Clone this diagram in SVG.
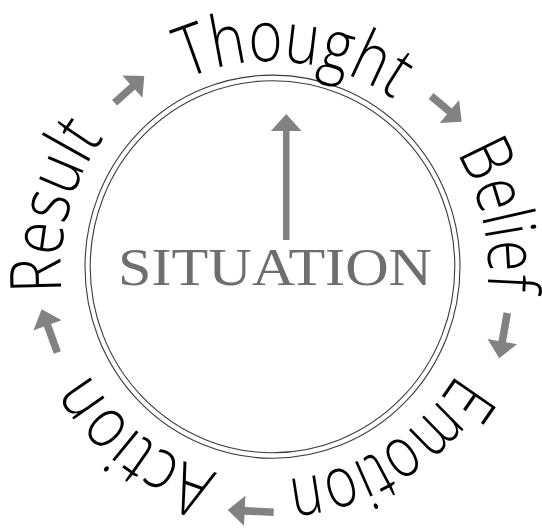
<svg xmlns="http://www.w3.org/2000/svg" xmlns:xlink="http://www.w3.org/1999/xlink" width="542" height="529" viewBox="0 0 542 529">
<style>
.ring{fill:none;stroke:#3a3a3a;stroke-width:1.1}
.word{font-family:"Open Sans","Noto Sans","DejaVu Sans",sans-serif;font-weight:350;font-size:71px;fill:#000}
.arrow{fill:#828282}
.sit{font-family:"Liberation Serif","Times New Roman",serif;font-size:53px;fill:#6e6e6e}
</style>
<defs>
<path id="pThought" d="M252.5,470.5 A205,205 0 1 1 292.5,62.5 A205,205 0 1 1 252.5,470.5"/>
<path id="pBelief" d="M62.8,313.8 A215,215 0 1 1 482.2,219.2 A215,215 0 1 1 62.8,313.8"/>
<path id="pEmotion" d="M160.2,86.7 A212,212 0 1 1 384.8,446.3 A212,212 0 1 1 160.2,86.7"/>
<path id="pAction" d="M402.2,97.5 A213,213 0 1 1 142.8,435.5 A213,213 0 1 1 402.2,97.5"/>
<path id="pResult" d="M476.1,321.8 A211,211 0 1 1 68.9,211.2 A211,211 0 1 1 476.1,321.8"/>
<polygon id="arrS" points="-40,-3.8 -16,-3.8 -16,-15 0,0 -16,15 -16,3.8 -40,3.8"/>
<polygon id="arrL" points="-46,-3.8 -17,-3.8 -17,-15 0,0 -17,15 -17,3.8 -46,3.8"/>
</defs>
<g id="situation">
<ellipse class="ring" cx="272.5" cy="266.7" rx="187.5" ry="191.6"/>
<ellipse class="ring" cx="272.5" cy="266.7" rx="182.3" ry="186"/>
<text class="sit" x="118" y="285" textLength="314" lengthAdjust="spacingAndGlyphs">SITUATION</text>
</g>
<g id="thought"><text class="word"><textPath href="#pThought" xlink:href="#pThought" startOffset="50%" text-anchor="middle" textLength="218" lengthAdjust="spacingAndGlyphs">Thought</textPath></text></g>
<g id="belief"><text class="word"><textPath href="#pBelief" xlink:href="#pBelief" startOffset="50%" text-anchor="middle" textLength="143" lengthAdjust="spacingAndGlyphs">Belief</textPath></text></g>
<g id="emotion"><text class="word"><textPath href="#pEmotion" xlink:href="#pEmotion" startOffset="50%" text-anchor="middle" textLength="207" lengthAdjust="spacingAndGlyphs">Emotion</textPath></text></g>
<g id="action"><text class="word"><textPath href="#pAction" xlink:href="#pAction" startOffset="50%" text-anchor="middle" textLength="167" lengthAdjust="spacingAndGlyphs">Action</textPath></text></g>
<g id="result"><text class="word"><textPath href="#pResult" xlink:href="#pResult" startOffset="50%" text-anchor="middle" textLength="164" lengthAdjust="spacingAndGlyphs">Result</textPath></text></g>
<g id="connectors">
<polygon class="arrow" points="283,240 289.5,240 289.5,131 301.5,131 286.2,114 271,131 283,131"/>
<use class="arrow" href="#arrS" xlink:href="#arrS" transform="translate(144.3,76) rotate(-42)"/>
<use class="arrow" href="#arrS" xlink:href="#arrS" transform="translate(461.7,121.7) rotate(40)"/>
<use class="arrow" href="#arrL" xlink:href="#arrL" transform="translate(499.3,358.3) rotate(100)"/>
<use class="arrow" href="#arrL" xlink:href="#arrL" transform="translate(227.7,510) rotate(182.8)"/>
<use class="arrow" href="#arrL" xlink:href="#arrL" transform="translate(41.7,309.3) rotate(250.2)"/>
</g>
</svg>
